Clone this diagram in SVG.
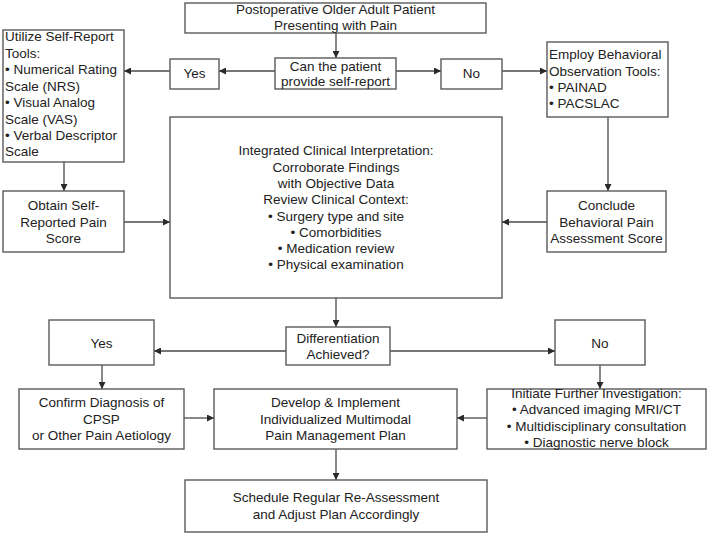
<svg xmlns="http://www.w3.org/2000/svg" width="708" height="537" viewBox="0 0 708 537">
  <style>
    .box { fill: #ffffff; stroke: #5a5a5a; stroke-width: 1.4; }
    .edge { fill: none; stroke: #4a4a4a; stroke-width: 1.3; marker-end: url(#arrow); }
    text { font-family: "Liberation Sans", Arial, sans-serif; font-size: 13.5px; fill: #222222; }
    .c { text-anchor: middle; }
  </style>
  <defs>
    <marker id="arrow" markerUnits="userSpaceOnUse" markerWidth="7" markerHeight="7" refX="7" refY="3.5" orient="auto">
      <path d="M0,0 L7,3.5 L0,7 z" fill="#2a2a2a"/>
    </marker>
  </defs>
  <rect width="708" height="537" fill="#ffffff"/>

  <g id="connectors">
    <line class="edge" x1="336" y1="33" x2="336" y2="58"/>
    <line class="edge" x1="275" y1="71" x2="219" y2="71"/>
    <line class="edge" x1="170" y1="71" x2="124" y2="71"/>
    <line class="edge" x1="396" y1="71" x2="441" y2="71"/>
    <line class="edge" x1="502" y1="71" x2="547" y2="71"/>
    <line class="edge" x1="64" y1="162" x2="64" y2="191"/>
    <line class="edge" x1="608" y1="117" x2="608" y2="191"/>
    <line class="edge" x1="124" y1="222" x2="170" y2="222"/>
    <line class="edge" x1="547" y1="222" x2="502" y2="222"/>
    <line class="edge" x1="336" y1="298" x2="336" y2="327"/>
    <line class="edge" x1="286" y1="351" x2="154" y2="351"/>
    <line class="edge" x1="390" y1="351" x2="555" y2="351"/>
    <line class="edge" x1="102" y1="365" x2="102" y2="389"/>
    <line class="edge" x1="600" y1="365" x2="600" y2="389"/>
    <line class="edge" x1="184" y1="418" x2="214" y2="418"/>
    <line class="edge" x1="487" y1="418" x2="457" y2="418"/>
    <line class="edge" x1="336" y1="449" x2="336" y2="480"/>
  </g>

  <g id="start">
    <rect class="box" x="185" y="3" width="301" height="30"/>
    <text class="c" x="335.5" y="14">Postoperative Older Adult Patient</text>
    <text class="c" x="335.5" y="29.5">Presenting with Pain</text>
  </g>

  <g id="self-report-question">
    <rect class="box" x="275" y="58" width="121" height="31"/>
    <text class="c" x="335.5" y="70.5">Can the patient</text>
    <text class="c" x="335.5" y="86">provide self-report</text>
  </g>

  <g id="yes-self-report">
    <rect class="box" x="170" y="59" width="49" height="30"/>
    <text class="c" x="194.5" y="78">Yes</text>
  </g>

  <g id="no-self-report">
    <rect class="box" x="441" y="59" width="61" height="30"/>
    <text class="c" x="471.5" y="78">No</text>
  </g>

  <g id="self-report-tools">
    <rect class="box" x="3" y="30" width="121" height="132"/>
    <text x="5" y="41">Utilize Self-Report</text>
    <text x="5" y="57.5">Tools:</text>
    <text x="5" y="74">• Numerical Rating</text>
    <text x="5" y="90.5">Scale (NRS)</text>
    <text x="5" y="107">• Visual Analog</text>
    <text x="5" y="123.5">Scale (VAS)</text>
    <text x="5" y="140">• Verbal Descriptor</text>
    <text x="5" y="156">Scale</text>
  </g>

  <g id="behavioral-tools">
    <rect class="box" x="547" y="42" width="121" height="75"/>
    <text x="549" y="59">Employ Behavioral</text>
    <text x="549" y="75.5">Observation Tools:</text>
    <text x="549" y="92">• PAINAD</text>
    <text x="549" y="108">• PACSLAC</text>
  </g>

  <g id="self-report-score">
    <rect class="box" x="3" y="191" width="121" height="61"/>
    <text class="c" x="63.5" y="210">Obtain Self-</text>
    <text class="c" x="63.5" y="226.5">Reported Pain</text>
    <text class="c" x="63.5" y="242.5">Score</text>
  </g>

  <g id="integrated-interpretation">
    <rect class="box" x="170" y="117" width="332" height="181"/>
    <text class="c" x="336" y="155">Integrated Clinical Interpretation:</text>
    <text class="c" x="336" y="171.5">Corroborate Findings</text>
    <text class="c" x="336" y="188">with Objective Data</text>
    <text class="c" x="336" y="204">Review Clinical Context:</text>
    <text class="c" x="336" y="220.5">• Surgery type and site</text>
    <text class="c" x="336" y="237">• Comorbidities</text>
    <text class="c" x="336" y="253">• Medication review</text>
    <text class="c" x="336" y="269">• Physical examination</text>
  </g>

  <g id="behavioral-score">
    <rect class="box" x="547" y="191" width="119" height="61"/>
    <text class="c" x="606.5" y="210">Conclude</text>
    <text class="c" x="606.5" y="226.5">Behavioral Pain</text>
    <text class="c" x="606.5" y="242.5">Assessment Score</text>
  </g>

  <g id="differentiation">
    <rect class="box" x="286" y="327" width="104" height="38"/>
    <text class="c" x="338" y="343">Differentiation</text>
    <text class="c" x="338" y="359">Achieved?</text>
  </g>

  <g id="yes-differentiation">
    <rect class="box" x="49" y="320" width="105" height="45"/>
    <text class="c" x="101.5" y="348">Yes</text>
  </g>

  <g id="no-differentiation">
    <rect class="box" x="555" y="320" width="90" height="45"/>
    <text class="c" x="600" y="348">No</text>
  </g>

  <g id="confirm-diagnosis">
    <rect class="box" x="19" y="389" width="165" height="60"/>
    <text class="c" x="101.5" y="407">Confirm Diagnosis of</text>
    <text class="c" x="101.5" y="423.5">CPSP</text>
    <text class="c" x="101.5" y="440">or Other Pain Aetiology</text>
  </g>

  <g id="management-plan">
    <rect class="box" x="214" y="389" width="243" height="60"/>
    <text class="c" x="335.5" y="407">Develop &amp; Implement</text>
    <text class="c" x="335.5" y="423.5">Individualized Multimodal</text>
    <text class="c" x="335.5" y="440">Pain Management Plan</text>
  </g>

  <g id="further-investigation">
    <rect class="box" x="487" y="389" width="219" height="60"/>
    <text class="c" x="596.5" y="397.5">Initiate Further Investigation:</text>
    <text class="c" x="596.5" y="414">• Advanced imaging MRI/CT</text>
    <text class="c" x="596.5" y="430.5">• Multidisciplinary consultation</text>
    <text class="c" x="596.5" y="447">• Diagnostic nerve block</text>
  </g>

  <g id="reassessment">
    <rect class="box" x="185" y="480" width="302" height="52"/>
    <text class="c" x="336" y="502">Schedule Regular Re-Assessment</text>
    <text class="c" x="336" y="519">and Adjust Plan Accordingly</text>
  </g>
</svg>
